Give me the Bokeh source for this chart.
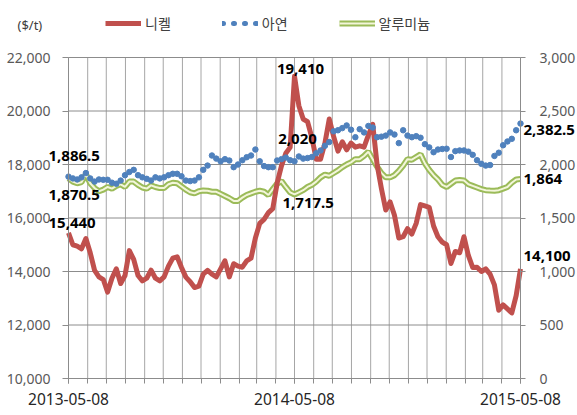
import pandas as pd
from bokeh.plotting import figure
from bokeh.models import (Range1d, LinearAxis, DatetimeAxis, FixedTicker, NumeralTickFormatter,
                          DatetimeTickFormatter, Label, Legend, LegendItem, ColumnDataSource)
from bokeh.embed import file_html
from bokeh.resources import INLINE

# ---------------- data (weekly readings, $/t) ----------------
start_date = "2013-05-08"
end_date = "2015-05-08"

nickel = [15440, 15000, 14950, 14850, 15230, 14700, 14040, 13800, 13700, 13230,
          13750, 14100, 13550, 13850, 14780, 14450, 13850, 13650, 13750, 14050,
          13750, 13650, 13800, 14200, 14500, 14550, 14150, 13790, 13620, 13400,
          13450, 13900, 14040, 13900, 13800, 14100, 14400, 13800, 14290, 14200,
          14160, 14400, 14500, 15250, 15800, 15950, 16200, 16350, 17300, 17950,
          18420, 18640, 21300, 20200, 19700, 19600, 19000, 18200, 18200, 18800,
          19700, 19050, 18500, 18850, 18550, 18800, 18650, 18700, 18650, 19100,
          19500, 18000, 17100, 16300, 16600, 16100, 15250, 15300, 15600, 15400,
          15800, 16500, 16450, 16400, 15700, 15300, 15100, 15000, 14300, 14750,
          14700, 15300, 14600, 14150, 14160, 14000, 14100, 13900, 13500, 12550,
          12750, 12600, 12450, 13100, 14100]

zinc = [1886.5, 1870, 1860, 1880, 1920, 1870, 1840, 1860, 1857, 1857,
        1830, 1820, 1850, 1900, 1930, 1950, 1900, 1880, 1866, 1850,
        1880, 1870, 1880, 1900, 1913, 1913, 1890, 1850, 1845, 1850,
        1880, 1950, 1990, 2084, 2055, 2030, 2050, 2037, 1975, 2000,
        2040, 2068, 2084, 2140, 2030, 1985, 1975, 1975, 2037, 2050,
        2065, 2040, 2030, 2075, 2055, 2060, 2070, 2105, 2131, 2175,
        2210, 2310, 2320, 2340, 2365, 2325, 2255, 2330, 2300, 2360,
        2345, 2255, 2260, 2270, 2300, 2280, 2200, 2320, 2270, 2255,
        2265, 2250, 2190, 2160, 2115, 2140, 2145, 2147, 2070, 2125,
        2131, 2131, 2120, 2090, 2040, 2006, 1990, 1995, 2080, 2110,
        2180, 2215, 2240, 2320, 2382.5]

aluminium = [1870, 1840, 1825, 1835, 1910, 1825, 1780, 1750, 1765, 1790,
             1775, 1800, 1815, 1790, 1840, 1840, 1810, 1785, 1775, 1805,
             1790, 1780, 1780, 1815, 1830, 1825, 1795, 1765, 1740, 1730,
             1750, 1757, 1755, 1745, 1745, 1725, 1705, 1685, 1660, 1660,
             1690, 1715, 1730, 1745, 1755, 1745, 1715, 1770, 1820, 1845,
             1790, 1740, 1720, 1740, 1760, 1790, 1810, 1840, 1880, 1905,
             1895, 1920, 1945, 1975, 2000, 2020, 2050, 2050, 2080, 2120,
             2050, 1980, 1920, 1880, 1880, 1900, 1940, 1990, 2050, 2045,
             2070, 2095, 2010, 1950, 1900, 1860, 1810, 1790, 1820, 1850,
             1855, 1850, 1815, 1800, 1785, 1770, 1760, 1757, 1755, 1760,
             1775, 1790, 1830, 1860, 1864]

series_names = ["니켈", "아연", "알루미늄"]
unit_label = "($/t)"
left_ticks = [10000, 12000, 14000, 16000, 18000, 20000, 22000]
right_ticks = [0, 500, 1000, 1500, 2000, 2500, 3000]
date_labels = ["2013-05-08", "2014-05-08", "2015-05-08"]

# value labels: (text, series, index)
value_labels = [("15,440", "nickel", 0), ("19,410", "nickel", 52), ("14,100", "nickel", -1),
                ("1,886.5", "zinc", 0), ("2,020", "zinc", 52), ("2,382.5", "zinc", -1),
                ("1,870.5", "alu", 0), ("1,717.5", "alu", 52), ("1,864", "alu", -1)]

# ---------------- layout (pixels) ----------------
W, H = 577, 413
PL, PR, PT, PB = 68, 520, 57, 378     # plot-area box inside the canvas

# ---------------- build ----------------
dates = pd.date_range(start_date, end_date, periods=len(nickel))
src = ColumnDataSource(dict(date=dates, nickel=nickel, zinc=zinc, alu=aluminium))

def ms(ts):
    return pd.Timestamp(ts).value // 10**6

x0, x1 = ms(start_date), ms(end_date)
months = [ms(pd.Timestamp(start_date) + pd.DateOffset(months=k)) for k in range(25)]
major_dates = [ms(d) for d in date_labels]

def padded(lo, hi, px_lo, px_hi, size, flip=False):
    per = (hi - lo) / (px_hi - px_lo)
    if flip:   # vertical: px measured from top
        return lo - (size - px_hi) * per, hi + px_lo * per
    return lo - px_lo * per, hi + (size - px_hi) * per

xr = padded(x0, x1, PL, PR, W)
yl = padded(left_ticks[0], left_ticks[-1], PT, PB, H, flip=True)
yr = padded(right_ticks[0], right_ticks[-1], PT, PB, H, flip=True)

p = figure(width=W, height=H, x_axis_type=None, y_axis_type=None,
           x_range=Range1d(*xr), y_range=Range1d(*yl),
           output_backend="svg", toolbar_location=None,
           min_border_left=0, min_border_right=0, min_border_top=0, min_border_bottom=0)
p.outline_line_color = None
p.background_fill_color = "white"
p.border_fill_color = "white"
p.grid.visible = False
p.extra_y_ranges = {"r": Range1d(*yr)}

HGRID = "#8c8c8c"
VGRID = "#a6a6a6"
AXIS = "#8c8c8c"

# grid lines limited to the plot area
hsrc = ColumnDataSource(dict(y=left_ticks, xs=[x0] * len(left_ticks), xe=[x1] * len(left_ticks)))
vsrc = ColumnDataSource(dict(x=months, ys=[left_ticks[0]] * len(months), ye=[left_ticks[-1]] * len(months)))
p.segment(x0="x", y0="ys", x1="x", y1="ye", source=vsrc, line_color=VGRID, line_width=1, level="underlay")
p.segment(x0="xs", y0="y", x1="xe", y1="y", source=hsrc, line_color=HGRID, line_width=1, level="underlay")

# x axis
xa = DatetimeAxis(fixed_location=left_ticks[0], bounds=(x0, x1),
                  ticker=FixedTicker(ticks=major_dates, minor_ticks=months),
                  formatter=DatetimeTickFormatter(days="%Y-%m-%d", months="%Y-%m-%d", years="%Y-%m-%d"))
xa.axis_line_color = AXIS
xa.major_tick_line_color = AXIS
xa.minor_tick_line_color = AXIS
xa.major_tick_in = 0
xa.major_tick_out = 5
xa.minor_tick_in = 0
xa.minor_tick_out = 5
xa.major_label_standoff = 9
xa.major_label_text_font = "Noto Sans"
xa.major_label_text_font_size = "15.5px"
xa.major_label_text_color = "#262626"
p.add_layout(xa, "below")

# left axis
ya = LinearAxis(fixed_location=x0, bounds=(left_ticks[0], left_ticks[-1]),
                ticker=FixedTicker(ticks=left_ticks), formatter=NumeralTickFormatter(format="0,0"))
ya.axis_line_color = AXIS
ya.major_tick_line_color = AXIS
ya.minor_tick_line_color = None
ya.major_tick_in = 0
ya.major_tick_out = 6
ya.major_label_standoff = 12
ya.major_label_text_font = "Noto Sans"
ya.major_label_text_font_size = "14px"
ya.major_label_text_color = "#595959"
p.add_layout(ya, "left")

# right axis
ra = LinearAxis(y_range_name="r", fixed_location=x1, bounds=(right_ticks[0], right_ticks[-1]),
                ticker=FixedTicker(ticks=right_ticks), formatter=NumeralTickFormatter(format="0,0"))
ra.axis_line_color = AXIS
ra.major_tick_line_color = AXIS
ra.minor_tick_line_color = None
ra.major_tick_in = 0
ra.major_tick_out = 5
ra.major_label_standoff = 14
ra.major_label_text_font = "Noto Sans"
ra.major_label_text_font_size = "14px"
ra.major_label_text_color = "#595959"
p.add_layout(ra, "right")

# glyphs
RED = "#C0504D"
BLUE = "#4F81BD"
GREEN = "#9BBB59"
PALE = "#F3F6DA"
al_outer = p.line("date", "alu", source=src, y_range_name="r", line_color=GREEN, line_width=6)
al_inner = p.line("date", "alu", source=src, y_range_name="r", line_color=PALE, line_width=2)
ni = p.line("date", "nickel", source=src, line_color=RED, line_width=5, line_join="round")
zn = p.scatter("date", "zinc", source=src, y_range_name="r", size=5.5,
               fill_color=BLUE, line_color=BLUE)

# legend helper for dotted zinc key (a NaN row, so nothing is drawn in the plot)
key_src = ColumnDataSource(dict(date=[dates[0], dates[1]], zinc=[float("nan"), float("nan")]))
zn_key = p.line("date", "zinc", source=key_src, y_range_name="r", line_color=BLUE,
                line_width=5, line_dash="1 10", line_cap="round")

legend = Legend(items=[LegendItem(label=series_names[0], renderers=[ni]),
                       LegendItem(label=series_names[1], renderers=[zn_key]),
                       LegendItem(label=series_names[2], renderers=[al_outer, al_inner])],
                orientation="horizontal", location=(105, H - 33),
                padding=0, margin=0, spacing=51, label_standoff=4,
                glyph_width=36, glyph_height=18,
                label_text_font="Noto Sans CJK KR", label_text_font_size="14px",
                label_text_color="#404040",
                background_fill_alpha=0, border_line_alpha=0)
p.add_layout(legend, "center")

p.add_layout(Label(x=17, y=H - 24, x_units="screen", y_units="screen", text=unit_label,
                   text_font="Noto Sans", text_font_size="13px", text_color="#404040",
                   text_baseline="middle"))

# value labels
offsets = {("nickel", 0): ("left", -20, 10), ("nickel", 52): ("center", 6, 7),
           ("nickel", -1): ("left", 3, 13),
           ("zinc", 0): ("left", -20, 21), ("zinc", 52): ("center", 3, 22),
           ("zinc", -1): ("left", 3, -6),
           ("alu", 0): ("left", -20, -17), ("alu", 52): ("left", -12, -9),
           ("alu", -1): ("left", 3, 0)}
col = {"nickel": nickel, "zinc": zinc, "alu": aluminium}
for text, s, i in value_labels:
    align, dx, dy = offsets[(s, i)]
    kw = {} if s == "nickel" else {"y_range_name": "r"}
    p.add_layout(Label(x=dates[i], y=col[s][i], text=text, x_offset=dx, y_offset=dy,
                       text_align=align, text_baseline="middle",
                       text_font="Noto Sans", text_font_style="bold",
                       text_font_size="15px", text_color="black", **kw))

open("out.html", "w").write(file_html(p, INLINE))
